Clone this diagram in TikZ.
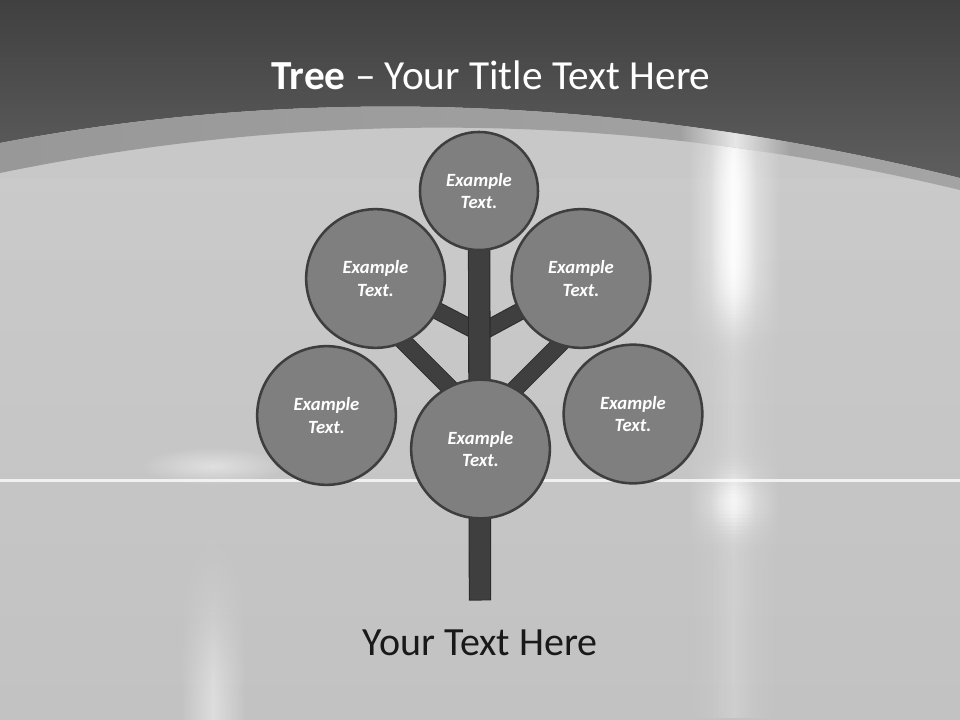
\documentclass[tikz,border=0pt]{standalone}
\usepackage{fontspec}
\setmainfont{Carlito}
\usetikzlibrary{fadings}
\definecolor{hdtop}{HTML}{404040}
\definecolor{hdbot}{HTML}{5E5E5E}
\definecolor{bandl}{HTML}{989898}
\definecolor{bandr}{HTML}{A4A4A4}
\definecolor{bgc}{HTML}{C8C8C8}
\definecolor{circ}{HTML}{7F7F7F}
\definecolor{circline}{HTML}{3E3E3E}
\definecolor{wood}{HTML}{3F3F3F}
\definecolor{woodline}{HTML}{2B2B2B}
\tikzfading[name=radglow, inner color=transparent!0, outer color=transparent!100]
\tikzfading[name=midglow, left color=transparent!100, right color=transparent!100, middle color=transparent!0]
\pgfdeclarelayer{back}
\pgfdeclarelayer{mid}
\pgfsetlayers{back,mid,main}
\tikzset{
  leaf/.style={circle, fill=circ, draw=circline, line width=1.9pt, inner sep=0pt,
    minimum size=104pt, align=center, text=white,
    font=\bfseries\itshape\fontsize{14}{17.2}\selectfont},
  smallleaf/.style={leaf, minimum size=88.5pt},
  woodedge/.style={draw=woodline, line width=13.2pt},
  woodfill/.style={draw=wood, line width=11.7pt},
  trunkedge/.style={draw=woodline, line width=16.8pt},
  trunkfill/.style={draw=wood, line width=15.2pt},
  glow/.style={fill=white, path fading=radglow, fill opacity=#1},
  streak/.style={fill=white, path fading=midglow, fill opacity=#1},
}
\begin{document}
\begin{tikzpicture}[x=0.75pt,y=-0.75pt]
\useasboundingbox (0,0) rectangle (960,720);
\begin{pgfonlayer}{back}
  \fill[bgc] (0,0) rectangle (960,720);
  \shade[top color=bgc!97!white, bottom color=bgc!97!black] (0,180) rectangle (960,720);
  % glows on the light ground
  \begin{scope}
    \clip (0,143) .. controls (306.7,84.7) and (626.7,96.3) .. (960,178) -- (960,720) -- (0,720) -- cycle;
    \foreach \yy in {130,134,...,716} {
      \pgfmathsetmacro\opa{0.12+0.6*exp(-min(((\yy-220)/100)^4,20))+0.5*exp(-min(((\yy-500)/28)^2,20))}
      \pgfmathsetmacro\opb{0.10+0.8*exp(-min(((\yy-215)/95)^4,20))+0.5*exp(-min(((\yy-500)/22)^2,20))}
      \path[streak=\opa] (688,\yy) rectangle (780,\yy+4);
      \path[streak=\opb] (710,\yy) rectangle (756,\yy+4);
    }
    \foreach \yy in {520,524,...,716} {
      \pgfmathsetmacro\opc{0.45*exp(-min(((\yy-710)/95)^2,20))}
      \path[streak=\opc] (180,\yy) rectangle (246,\yy+4);
    }
    \path[glow=0.45] (140,447) rectangle (285,485);
  \end{scope}
  \draw[white, opacity=0.75, line width=1.6pt] (0,480.5) -- (960,480.5);
  % header
  \shade[top color=hdtop, bottom color=hdbot]
    (0,0) -- (960,0) -- (960,178) .. controls (626.7,96.3) and (306.7,84.7) .. (0,143) -- cycle;
  \shade[left color=bandl, right color=bandr]
    (0,143) .. controls (306.7,84.7) and (626.7,96.3) .. (960,178)
    -- (960,190) .. controls (640,113) and (320,107.3) .. (0,173) -- cycle;
  \begin{scope}
    \clip (0,143) .. controls (306.7,84.7) and (626.7,96.3) .. (960,178)
    -- (960,190) .. controls (640,113) and (320,107.3) .. (0,173) -- cycle;
    \path[streak=0.75] (680,100) rectangle (790,220);
  \end{scope}
\end{pgfonlayer}

\node (title) at (491,75) {\color{white}\fontsize{31}{37}\selectfont\textbf{Tree} – Your Title Text Here};

\node[smallleaf] (top) at (479,191) {Example\\Text.};
\node[leaf] (ul) at (375.5,278.5) {Example\\Text.};
\node[leaf] (ur) at (581,278.5) {Example\\Text.};
\node[leaf] (ll) at (326.5,415.5) {Example\\Text.};
\node[leaf] (lr) at (633,414) {Example\\Text.};
\node[leaf] (mid) at (480.5,449) {Example\\Text.};

\coordinate (jup) at (480,333);
\coordinate (llstart) at (380,318);
\coordinate (lljoin) at (480,418);
\coordinate (lrstart) at (582,322);
\coordinate (lrjoin) at (482,422);
\coordinate (root) at (480,600.5);

\begin{pgfonlayer}{mid}
  \draw[woodedge] (ul.center) -- (jup);
  \draw[woodedge] (ur.center) -- (jup);
  \draw[woodedge] (llstart) -- (lljoin);
  \draw[woodedge] (lrstart) -- (lrjoin);
  \draw[woodfill] (ul.center) -- (jup);
  \draw[woodfill] (ur.center) -- (jup);
  \draw[woodfill] (llstart) -- (lljoin);
  \draw[woodfill] (lrstart) -- (lrjoin);
  \draw[trunkedge] (top.center) -- (root);
  \draw[trunkfill] (top.center) -- ([yshift=0.6pt]root);
\end{pgfonlayer}

\node (caption) at (480,643) {\color{black!90}\fontsize{30}{36}\selectfont Your Text Here};
\end{tikzpicture}
\end{document}
